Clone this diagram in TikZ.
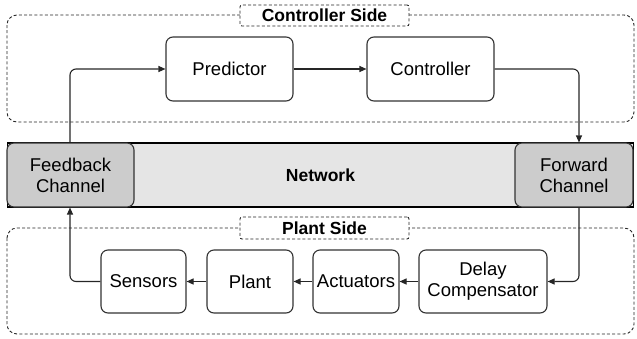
\documentclass[tikz,border=0pt]{standalone}
\usepackage{fontspec}
\setmainfont{Liberation Sans}
\usetikzlibrary{arrows.meta}
\begin{document}
\begin{tikzpicture}[x=1pt,y=-1pt,
  box/.style={draw=black!80,line width=1.1pt,rounded corners=7pt,fill=white,align=center,font=\fontsize{18.5}{21}\selectfont,inner sep=0pt},
  chan/.style={box,fill=black!20},
  region/.style={draw=black!85,dashed,dash pattern=on 3pt off 2.2pt,line width=0.9pt,rounded corners=10pt},
  tag/.style={draw=black!85,dashed,dash pattern=on 3pt off 2.2pt,line width=0.9pt,rounded corners=2pt,fill=white,font=\bfseries\fontsize{17.5}{20}\selectfont,inner sep=0pt},
  conn/.style={draw=black!85,line width=1.1pt,rounded corners=6pt,-{Triangle[length=7pt,width=6pt]}}]
\useasboundingbox (0,0) rectangle (637,338);
% regions
\draw[region] (7,15) rectangle (634,122);
\draw[region] (7,228) rectangle (634,334);
\node[tag,minimum width=169pt,minimum height=21pt] (ctag) at (324.5,15.5) {Controller Side};
\node[tag,minimum width=169pt,minimum height=22pt] (ptag) at (324.5,228) {Plant Side};
% network band
\node[draw=black,line width=1.1pt,fill=black!10,minimum width=626pt,minimum height=64pt,inner sep=0pt,font=\bfseries\fontsize{17.5}{20}\selectfont] (net) at (320.5,175) {Network};
\node[chan,minimum width=127pt,minimum height=64pt] (fb) at (70.5,175) {Feedback\\Channel};
\node[chan,minimum width=118pt,minimum height=64pt] (fw) at (574,175) {Forward\\Channel};
% controller side
\node[box,minimum width=127pt,minimum height=64pt] (pred) at (229.5,69) {Predictor};
\node[box,minimum width=127pt,minimum height=64pt] (ctrl) at (430.5,69) {Controller};
% plant side
\node[box,minimum width=85pt,minimum height=63pt] (sens) at (143.5,281.5) {Sensors};
\node[box,minimum width=86pt,minimum height=63pt] (plant) at (250,281.5) {Plant};
\node[box,minimum width=86pt,minimum height=63pt] (act) at (356,281.5) {Actuators};
\node[box,minimum width=128pt,minimum height=63pt] (dc) at (483,281.5) {Delay\\Compensator};
% connectors
\coordinate (fbx) at (70,0);
\coordinate (fwx) at (579,0);
\draw[conn] (fbx |- fb.north) |- (pred.west);
\draw[conn] (pred.east) -- (ctrl.west);
\draw[conn] (ctrl.east) -| (fwx |- fw.north);
\draw[conn] (fwx |- fw.south) |- (dc.east);
\draw[conn] (dc.west) -- (act.east);
\draw[conn] (act.west) -- (plant.east);
\draw[conn] (plant.west) -- (sens.east);
\draw[conn] (sens.west) -| (fbx |- fb.south);
\end{tikzpicture}
\end{document}
